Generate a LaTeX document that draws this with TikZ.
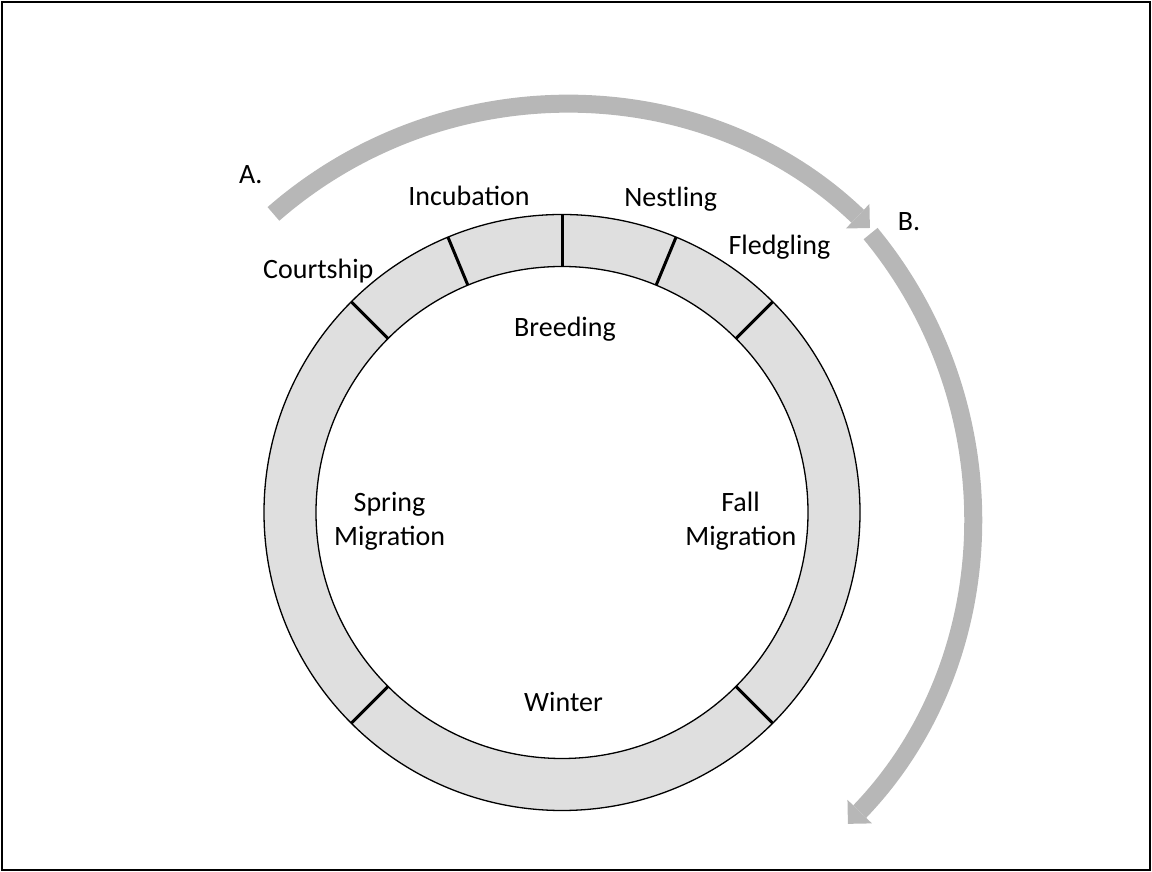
\documentclass[tikz,border=0pt]{standalone}
\usepackage{fontspec}
\setmainfont{Carlito}
\usetikzlibrary{arrows.meta}
\definecolor{ringgray}{RGB}{223,223,223}
\definecolor{arrowgray}{RGB}{183,183,183}
\begin{document}
\begin{tikzpicture}[x=1pt,y=1pt,
  lbl/.style={font=\fontsize{28}{34}\selectfont, inner sep=0pt, anchor=base},
  outline/.style={draw=black, line width=1.3pt},
  tickline/.style={draw=black, line width=3pt},
  bigarrow/.style={draw=arrowgray, line width=18pt, line cap=butt,
    -{Triangle[width=34pt,length=17pt,line width=0pt]}}]
\useasboundingbox (0,0) rectangle (1152,872);
\draw[line width=1.5pt] (2,2) rectangle (1150,870);
\coordinate (C) at (562,359.5);
\fill[ringgray, even odd rule] (C) circle[radius=298] (C) circle[radius=246];
\draw[outline] (C) circle[radius=298];
\draw[outline] (C) circle[radius=246];
\foreach \a in {45,67.5,90,112.5,135,225,315}
  \draw[tickline] ([shift={(C)}]\a:246) -- ([shift={(C)}]\a:298);
% arrows
\coordinate (CA) at (564,325);
\coordinate (Astart) at ([shift={(CA)}]131.1:442);
\draw[bigarrow] (Astart) arc[start angle=131.1, end angle=46.2, radius=442];
\coordinate (CB) at (528,356);
\coordinate (Bstart) at ([shift={(CB)}]39.5:444);
\draw[bigarrow] (Bstart) arc[start angle=39.5, end angle=-43.9, radius=444];
% labels
\node[lbl] (lA) at (250.8,688.7) {A.};
\node[lbl] (lB) at (909,641.5) {B.};
\node[lbl] (inc) at (469,666) {Incubation};
\node[lbl] (nest) at (670.7,665.3) {Nestling};
\node[lbl] (fled) at (779.5,617) {Fledgling};
\node[lbl] (court) at (318.3,593.7) {Courtship};
\node[lbl] (breed) at (565,535) {Breeding};
\node[lbl] (spring1) at (389.5,360.3) {Spring};
\node[lbl] (spring2) at (389.7,326) {Migration};
\node[lbl] (fall1) at (740.5,360.3) {Fall};
\node[lbl] (fall2) at (740.8,326) {Migration};
\node[lbl] (winter) at (563.5,160) {Winter};
\end{tikzpicture}
\end{document}
